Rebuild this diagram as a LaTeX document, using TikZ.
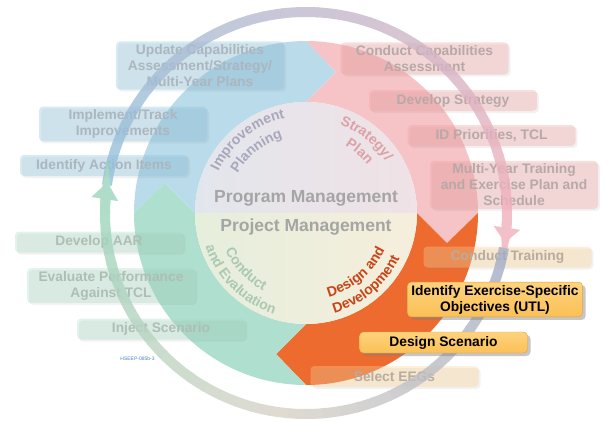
\documentclass[tikz,border=0pt]{standalone}
\usepackage{fontspec}
\setmainfont{Liberation Sans}
\usetikzlibrary{calc,shadows,decorations.text,arrows.meta}
\definecolor{impblue}{HTML}{BADBEA}
\definecolor{strpink}{HTML}{F6C4C7}
\definecolor{desorange}{HTML}{EE6B30}
\definecolor{conteal}{HTML}{AFDFCF}
\definecolor{progleft}{HTML}{E2E6EC}
\definecolor{progright}{HTML}{F0E2E6}
\definecolor{projleft}{HTML}{E6EEDC}
\definecolor{projright}{HTML}{F6EEDC}
\definecolor{impgray}{HTML}{A9A7BD}
\definecolor{strgray}{HTML}{DBA1A6}
\definecolor{congray}{HTML}{A9C9B3}
\definecolor{desred}{HTML}{C84416}
\definecolor{mgmtgray}{HTML}{A5A5A5}
\definecolor{bluebox}{HTML}{8CC4E0}
\definecolor{bluetext}{HTML}{ABB6BE}
\definecolor{pinkbox}{HTML}{F2A0A0}
\definecolor{pinktext}{HTML}{B8A8A8}
\definecolor{orgbox}{HTML}{FCD090}
\definecolor{orgtext}{HTML}{B8AC9E}
\definecolor{grnbox}{HTML}{A8DCC4}
\definecolor{grntext}{HTML}{AEBEB4}
\definecolor{focustop}{HTML}{FDD37E}
\definecolor{focusbot}{HTML}{FBC055}
\definecolor{focusline}{HTML}{E0A040}
\definecolor{ringblue}{HTML}{92C0DC}
\definecolor{ringpink}{HTML}{F0B0BC}
\definecolor{ringslate}{HTML}{A2ACC6}
\definecolor{ringsand}{HTML}{D8D2C6}
\definecolor{ringgreen}{HTML}{9CD4BB}
\definecolor{tagblue}{HTML}{4A80C0}
\newcommand{\boxfont}{\bfseries\fontsize{13.8}{16}\selectfont}
\newcommand{\arcfont}{\bfseries\fontsize{14}{16}\selectfont}
% one quarter of the cycle, start angle #1, colour #2
\newcommand{\phase}[2]{%
  \fill[#2] ($(C)+(#1:111pt)$) -- ($(C)+(#1:141pt)+({#1-90}:30pt)$) -- ($(C)+(#1:172pt)$)
    arc[start angle=#1, end angle={#1-90}, radius=172pt]
    -- ($(C)+({#1-90}:141pt)+({#1-180}:30pt)$) -- ($(C)+({#1-90}:111pt)$)
    arc[start angle={#1-90}, end angle=#1, radius=111pt] -- cycle;}

\begin{document}
\begin{tikzpicture}[x=1pt, y=1pt,
  ring/.style={line width=10pt},
  task/.style={rounded corners=4pt, minimum width=168pt, minimum height=21pt, inner xsep=4pt, inner ysep=3pt, align=center, font=\boxfont},
  faded/.style 2 args={task, fill=#1, fill opacity=0.35, text opacity=1, text=#2, drop shadow={opacity=0.1, shadow xshift=2pt, shadow yshift=-2pt}},
  focus/.style={task, top color=focustop, bottom color=focusbot, draw=focusline, text=black, drop shadow={opacity=0.45, shadow xshift=3pt, shadow yshift=-3pt}}]
\useasboundingbox (0,0) rectangle (608,-421);
\coordinate (C) at (306,-213);
% the four phases
\phase{180}{impblue}
\phase{90}{strpink}
\phase{0}{desorange}
\phase{-90}{conteal}
\shade[left color=progleft, right color=progright] ($(C)+(111pt,0)$) arc[start angle=0, end angle=180, radius=111pt] -- cycle;
\shade[left color=projleft, right color=projright] ($(C)+(111pt,0)$) arc[start angle=0, end angle=-180, radius=111pt] -- cycle;
% phase names
\path[decorate, decoration={text along path, text align=center, text={|\arcfont\color{impgray}|Improvement}}] ($(C)+(170:97pt)$) arc[start angle=170, end angle=87, radius=97pt];
\path[decorate, decoration={text along path, text align=center, text={|\arcfont\color{impgray}|Planning}}] ($(C)+(170:79pt)$) arc[start angle=170, end angle=87, radius=79pt];
\path[decorate, decoration={text along path, text align=center, text={|\arcfont\color{strgray}|Strategy/}}] ($(C)+(93:95pt)$) arc[start angle=93, end angle=9, radius=95pt];
\path[decorate, decoration={text along path, text align=center, text={|\arcfont\color{strgray}|Plan}}] ($(C)+(91:78pt)$) arc[start angle=91, end angle=7, radius=78pt];
\path[decorate, decoration={text along path, text align=center, text={|\arcfont\color{congray}|Conduct}}] ($(C)+(178:89pt)$) arc[start angle=178, end angle=268, radius=89pt];
\path[decorate, decoration={text along path, text align=center, text={|\arcfont\color{congray}|and Evaluation}}] ($(C)+(180:106pt)$) arc[start angle=180, end angle=271, radius=106pt];
\path[decorate, decoration={text along path, text align=center, text={|\arcfont\color{desred}|Design and}}] ($(C)+(-95:87pt)$) arc[start angle=-95, end angle=-5, radius=87pt];
\path[decorate, decoration={text along path, text align=center, text={|\arcfont\color{desred}|Development}}] ($(C)+(-96:104pt)$) arc[start angle=-96, end angle=-4, radius=104pt];
\node[font=\bfseries\fontsize{17.5}{20}\selectfont, text=mgmtgray] (prog) at (306,-198) {Program Management};
\node[font=\bfseries\fontsize{17.5}{20}\selectfont, text=mgmtgray] (proj) at (306,-227) {Project Management};
% steps
\node[faded={bluebox}{bluetext}] (upd) at (200,-65.5) {Update Capabilities\\Assessment/Strategy/\\Multi-Year Plans};
\node[faded={bluebox}{bluetext}] (impl) at (123,-124) {Implement/Track\\Improvements};
\node[faded={bluebox}{bluetext}] (actn) at (104,-165.5) {Identify Action Items};
\node[faded={pinkbox}{pinktext}] (ccap) at (424.5,-58.5) {Conduct Capabilities\\Assessment};
\node[faded={pinkbox}{pinktext}] (dstr) at (453,-100.5) {Develop Strategy};
\node[faded={pinkbox}{pinktext}] (idpr) at (491.5,-135.5) {ID Priorities, TCL};
\node[faded={pinkbox}{pinktext}] (myt) at (514,-185) {Multi-Year Training\\and Exercise Plan and\\Schedule};
\node[faded={orgbox}{orgtext}] (ctrn) at (507.5,-257) {Conduct Training};
\node[faded={orgbox}{orgtext}] (seeg) at (394.5,-376.5) {Select EEGs};
\node[faded={grnbox}{grntext}] (daar) at (99,-242) {Develop AAR};
\node[faded={grnbox}{grntext}] (eval) at (111,-285.5) {Evaluate Performance\\Against TCL};
\node[faded={grnbox}{grntext}] (injs) at (161,-329) {Inject Scenario};
% outer cycle arrow
\begin{scope}[transparency group, opacity=0.8]
\foreach \i in {0,...,34}{
  \pgfmathtruncatemacro{\p}{100-\i*100/34}
  \draw[ring, ringblue!\p!ringpink] ($(C)+({172-5*\i}:201pt)$) arc[start angle={172-5*\i}, end angle={166.4-5*\i}, radius=201pt];
}
\draw[ring, ringpink, -{Triangle[width=26pt,length=15pt]}] ($(C)+(-2:201pt)$) arc[start angle=-2, end angle=-8.5, radius=201pt];
\foreach \i in {0,...,17}{
  \pgfmathtruncatemacro{\p}{100-\i*100/17}
  \draw[ring, ringslate!\p!ringsand] ($(C)+({-10-5*\i}:201pt)$) arc[start angle={-10-5*\i}, end angle={-15.6-5*\i}, radius=201pt];
}
\foreach \i in {18,...,34}{
  \pgfmathtruncatemacro{\p}{100-(\i-17)*100/17}
  \draw[ring, ringsand!\p!ringgreen] ($(C)+({-10-5*\i}:201pt)$) arc[start angle={-10-5*\i}, end angle={-15.6-5*\i}, radius=201pt];
}
\draw[ring, ringgreen, -{Triangle[width=26pt,length=17pt]}] ($(C)+(-182:201pt)$) arc[start angle=-182, end angle=-188.8, radius=201pt];
\end{scope}
\node[focus] (ideo) at (495,-299.5) {Identify Exercise-Specific\\Objectives (UTL)};
\node[focus] (dscn) at (443.5,-342.5) {Design Scenario};
\node[font=\fontsize{5}{6}\selectfont, text=tagblue] (tag) at (137.5,-359) {HSEEP-085b-3};
\end{tikzpicture}
\end{document}
